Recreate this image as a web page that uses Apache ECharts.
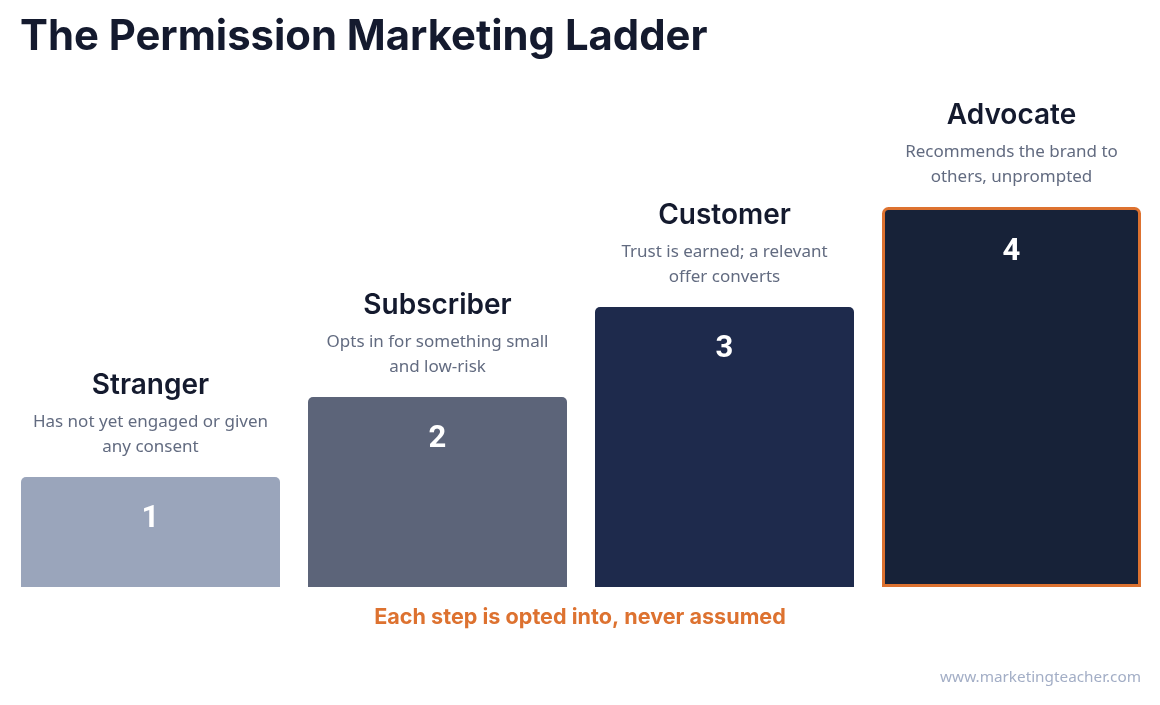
<!DOCTYPE html>
<html>
<head>
<meta charset="utf-8">
<style>
html, body { margin: 0; padding: 0; background: #fff; }
#main { width: 1160px; height: 705px; }
</style>
<script src="https://cdn.jsdelivr.net/npm/echarts@6/dist/echarts.min.js"></script>
</head>
<body>
<div id="main"></div>
<script>
var steps = ['Stranger', 'Subscriber', 'Customer', 'Advocate'];
var stepValues = [110, 190, 280, 380];
var stepNumbers = ['1', '2', '3', '4'];
var stepNotes = [
	'Has not yet engaged or given\nany consent',
	'Opts in for something small\nand low-risk',
	'Trust is earned; a relevant\noffer converts',
	'Recommends the brand to\nothers, unprompted'
];
var stepColors = ['#9aa5bb', '#5c6479', '#1e2a4c', '#172238'];
var highlightStep = 'Advocate';

var myChart = echarts.init(document.getElementById('main'));

function renderStep(params, api) {
	var i = params.dataIndex;
	var top = api.coord([i, api.value(1)]);
	var base = api.coord([i, 0]);
	var w = api.size([1, 0])[0] - 28;
	var x = top[0] - w / 2;
	var y = top[1];
	var h = base[1] - top[1];
	var marked = steps[i] === highlightStep;
	var inset = marked ? 1.5 : 0;
	return {
		type : 'group',
		children : [ {
			type : 'rect',
			shape : {
				x : x + inset,
				y : y + inset,
				width : w - inset * 2,
				height : h - inset * 2,
				r : [ 5, 5, 0, 0 ]
			},
			style : {
				fill : stepColors[i],
				stroke : marked ? '#dd7230' : null,
				lineWidth : marked ? 3 : 0
			}
		}, {
			type : 'text',
			style : {
				text : stepNumbers[i],
				x : top[0],
				y : y + (marked ? 45 : 42),
				align : 'center',
				verticalAlign : 'middle',
				fill : '#ffffff',
				font : 'bold 31px Roboto'
			}
		}, {
			type : 'text',
			style : {
				text : steps[i],
				x : top[0],
				y : y - 91,
				align : 'center',
				verticalAlign : 'middle',
				fill : '#141a2e',
				font : '600 28px Inter'
			}
		}, {
			type : 'text',
			style : {
				text : stepNotes[i],
				x : top[0],
				y : y - 42,
				align : 'center',
				verticalAlign : 'middle',
				lineHeight : 25,
				fill : '#626b80',
				font : '17px "Noto Sans"'
			}
		} ]
	};
}

var option = {
	animation : false,
	backgroundColor : '#ffffff',
	title : [ {
		text : 'The Permission Marketing Ladder',
		left : 20,
		top : 16,
		padding : 0,
		textStyle : {
			color : '#141a2e',
			fontFamily : 'Inter',
			fontWeight : 700,
			fontSize : 41.8
		}
	}, {
		text : 'Each step is opted into, never assumed',
		left : 'center',
		top : 606,
		padding : 0,
		textStyle : {
			color : '#dd7230',
			fontFamily : 'Inter',
			fontWeight : 700,
			fontSize : 21.6
		}
	}, {
		text : 'www.marketingteacher.com',
		right : 19,
		top : 670,
		padding : 0,
		textStyle : {
			color : '#a3aec6',
			fontFamily : 'Noto Sans',
			fontWeight : 400,
			fontSize : 15.3
		}
	} ],
	grid : {
		left : 7,
		right : 5,
		top : 87,
		bottom : 118
	},
	xAxis : {
		type : 'category',
		data : steps,
		show : false
	},
	yAxis : {
		type : 'value',
		min : 0,
		max : 500,
		show : false
	},
	series : [ {
		type : 'custom',
		renderItem : renderStep,
		encode : {
			x : 0,
			y : 1
		},
		clip : false,
		data : stepValues.map(function(v, i) {
			return [ i, v ];
		})
	} ]
};
myChart.setOption(option);
</script>
</body>
</html>
